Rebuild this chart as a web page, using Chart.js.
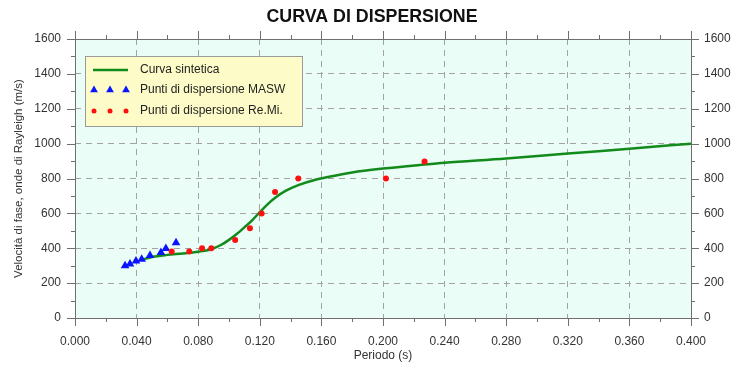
<!DOCTYPE html>
<html lang="it">
<head>
  <meta charset="UTF-8" />
  <title>Curva di dispersione</title>
  <script src="https://cdn.jsdelivr.net/npm/chart.js@4.4.0/dist/chart.umd.min.js"></script>
  <style>
    html, body { margin: 0; padding: 0; background: #ffffff; }
    canvas { display: block; }
  </style>
</head>
<body>
  <canvas id="dispersionChart" width="744" height="365"></canvas>

  <script>
    // Axis ticks (major)
    const periodTicks = [0, 0.04, 0.08, 0.12, 0.16, 0.2, 0.24, 0.28, 0.32, 0.36, 0.4];
    const velocityTicks = [0, 200, 400, 600, 800, 1000, 1200, 1400, 1600];

    // Synthetic dispersion curve
    const curvePeriod = [0.044, 0.050, 0.060, 0.070, 0.080, 0.088, 0.095, 0.100, 0.105, 0.110, 0.115, 0.120, 0.125, 0.130, 0.137, 0.145, 0.155, 0.165, 0.180, 0.200, 0.227, 0.240, 0.280, 0.320, 0.360, 0.400];
    const curveVelocity = [335, 350, 362, 370, 380, 393, 420, 448, 482, 520, 560, 607, 652, 690, 730, 762, 790, 810, 835, 857, 880, 890, 914, 943, 971, 1000];

    // MASW picks
    const maswPeriod = [0.0325, 0.0357, 0.0396, 0.0433, 0.0487, 0.0558, 0.0590, 0.0656];
    const maswVelocity = [299, 309, 327, 337, 358, 375, 398, 432];

    // Re.Mi. picks
    const remiPeriod = [0.0628, 0.0742, 0.0825, 0.0885, 0.104, 0.1136, 0.1212, 0.1299, 0.145, 0.2019, 0.227];
    const remiVelocity = [381, 381, 400, 400, 447, 514, 600, 723, 800, 800, 897];

    const toPoints = (xs, ys) => xs.map((x, i) => ({ x: x, y: ys[i] }));
    const midpoints = arr => arr.slice(1).map((v, i) => (v + arr[i]) / 2);

    const FONT = '"Liberation Sans", Arial, sans-serif';
    const TEXT = '#333333';
    const FRAME = '#6f6f6f';

    // Mint plot background
    const plotBackground = {
      id: 'plotBackground',
      beforeDraw(chart) {
        const { ctx, chartArea: a } = chart;
        ctx.save();
        ctx.fillStyle = '#eafdf6';
        ctx.fillRect(a.left, a.top, a.right - a.left, a.bottom - a.top);
        ctx.restore();
      }
    };

    // Frame plus outward major/minor tick marks on all four sides
    const frameTicks = {
      id: 'frameTicks',
      afterDatasetsDraw(chart) {
        const { ctx, chartArea: a, scales } = chart;
        const xs = scales.x, ys = scales.y;
        ctx.save();
        ctx.strokeStyle = FRAME;
        ctx.lineWidth = 1;
        ctx.beginPath();
        const vTick = (v, len) => {
          const px = Math.round(xs.getPixelForValue(v)) + 0.5;
          ctx.moveTo(px, a.bottom); ctx.lineTo(px, a.bottom + len);
          ctx.moveTo(px, a.top); ctx.lineTo(px, a.top - len);
        };
        const hTick = (v, len) => {
          const py = Math.round(ys.getPixelForValue(v)) + 0.5;
          ctx.moveTo(a.left, py); ctx.lineTo(a.left - len, py);
          ctx.moveTo(a.right, py); ctx.lineTo(a.right + len, py);
        };
        periodTicks.forEach(v => vTick(v, 8));
        midpoints(periodTicks).forEach(v => vTick(v, 4));
        velocityTicks.forEach(v => hTick(v, 8));
        midpoints(velocityTicks).forEach(v => hTick(v, 4));
        ctx.stroke();
        ctx.strokeRect(Math.round(a.left) + 0.5, Math.round(a.top) + 0.5,
          Math.round(a.right - a.left), Math.round(a.bottom - a.top));
        ctx.restore();
      }
    };

    // Condensed bold heading
    const heading = {
      id: 'heading',
      afterDraw(chart) {
        const { ctx } = chart;
        const text = 'CURVA DI DISPERSIONE';
        ctx.save();
        ctx.font = 'bold 18px ' + FONT;
        ctx.fillStyle = '#111111';
        ctx.textBaseline = 'middle';
        ctx.textAlign = 'center';
        const w = ctx.measureText(text).width;
        const sx = Math.min(1, 211 / w);
        ctx.translate(chart.width / 2, 17);
        ctx.scale(sx, 1);
        ctx.fillText(text, 0, 0);
        ctx.restore();
      }
    };

    // Boxed legend with three repeated markers per entry
    const legendBox = {
      id: 'legendBox',
      afterDraw(chart) {
        const { ctx, chartArea: a } = chart;
        const ds = chart.data.datasets;
        const x = a.left + 10, y = a.top + 17, w = 217, h = 70;
        ctx.save();
        ctx.fillStyle = '#fdfcc8';
        ctx.fillRect(x, y, w, h);
        ctx.strokeStyle = '#9a9a9a';
        ctx.lineWidth = 1;
        ctx.strokeRect(x + 0.5, y + 0.5, w, h);

        const rows = [y + 14, y + 34, y + 55];
        const textX = x + 55;

        // line entry
        ctx.strokeStyle = ds[0].borderColor;
        ctx.lineWidth = ds[0].borderWidth;
        ctx.beginPath();
        ctx.moveTo(x + 8, rows[0]);
        ctx.lineTo(x + 43, rows[0]);
        ctx.stroke();

        // marker entries
        [1, 2].forEach((d, r) => {
          const set = ds[d];
          ctx.fillStyle = set.backgroundColor;
          ctx.strokeStyle = set.borderColor;
          ctx.lineWidth = 0;
          [x + 9, x + 25, x + 41].forEach(mx => {
            Chart.helpers.drawPoint(ctx, {
              pointStyle: set.pointStyle,
              radius: set.pointRadius - 0.5,
              borderWidth: 0,
              rotation: 0
            }, mx, rows[r + 1]);
          });
        });

        ctx.fillStyle = '#222222';
        ctx.font = '12px ' + FONT;
        ctx.textBaseline = 'middle';
        ctx.textAlign = 'left';
        ctx.fillText(ds[0].label, textX, rows[0]);
        ctx.fillText(ds[1].label, textX, rows[1]);
        ctx.fillText(ds[2].label, textX, rows[2]);
        ctx.restore();
      }
    };

    const tickFont = { family: FONT, size: 12 };
    const plain = v => String(v);

    new Chart(document.getElementById('dispersionChart'), {
      type: 'scatter',
      data: {
        datasets: [
          {
            label: 'Curva sintetica',
            data: toPoints(curvePeriod, curveVelocity),
            showLine: true,
            borderColor: '#138a1c',
            backgroundColor: '#138a1c',
            borderWidth: 2.5,
            pointRadius: 0,
            cubicInterpolationMode: 'monotone',
            order: 2
          },
          {
            label: 'Punti di dispersione MASW',
            data: toPoints(maswPeriod, maswVelocity),
            pointStyle: 'triangle',
            pointRadius: 5,
            borderWidth: 0,
            backgroundColor: '#0a14ff',
            borderColor: '#0a14ff',
            order: 1
          },
          {
            label: 'Punti di dispersione Re.Mi.',
            data: toPoints(remiPeriod, remiVelocity),
            pointStyle: 'circle',
            pointRadius: 3,
            borderWidth: 0,
            backgroundColor: '#ff1010',
            borderColor: '#ff1010',
            order: 0
          }
        ]
      },
      options: {
        responsive: false,
        animation: false,
        devicePixelRatio: 1,
        layout: { padding: { top: 39, left: 0, right: 0, bottom: 0 } },
        plugins: {
          legend: { display: false },
          title: { display: false },
          tooltip: { enabled: false }
        },
        scales: {
          x: {
            type: 'linear',
            min: 0,
            max: 0.4,
            afterBuildTicks: s => { s.ticks = periodTicks.map(v => ({ value: v })); },
            afterFit: s => { s.height = 47; },
            ticks: {
              color: TEXT,
              font: tickFont,
              padding: 16,
              maxRotation: 0,
              callback: v => v.toFixed(3)
            },
            grid: {
              color: '#a3a3a3',
              lineWidth: 1,
              drawTicks: false
            },
            border: { display: false, dash: [6, 5] },
            title: {
              display: true,
              text: 'Periodo (s)',
              color: TEXT,
              font: { family: FONT, size: 12 },
              padding: { top: 0, bottom: 2 }
            }
          },
          y: {
            type: 'linear',
            position: 'left',
            min: 0,
            max: 1600,
            afterBuildTicks: s => { s.ticks = velocityTicks.map(v => ({ value: v })); },
            afterFit: s => { s.width = 75; },
            ticks: {
              color: TEXT,
              font: tickFont,
              padding: 14,
              callback: plain
            },
            grid: {
              color: '#a3a3a3',
              lineWidth: 1,
              drawTicks: false
            },
            border: { display: false, dash: [6, 5] },
            title: {
              display: true,
              text: 'Velocità di fase, onde di Rayleigh (m/s)',
              color: TEXT,
              font: { family: FONT, size: 11.5 },
              padding: { top: 12, bottom: 0 }
            }
          },
          y2: {
            type: 'linear',
            position: 'right',
            min: 0,
            max: 1600,
            afterBuildTicks: s => { s.ticks = velocityTicks.map(v => ({ value: v })); },
            afterFit: s => { s.width = 53; },
            ticks: {
              color: TEXT,
              font: tickFont,
              padding: 13,
              callback: plain
            },
            grid: { drawOnChartArea: false, drawTicks: false },
            border: { display: false }
          }
        }
      },
      plugins: [plotBackground, frameTicks, heading, legendBox]
    });
  </script>
</body>
</html>
